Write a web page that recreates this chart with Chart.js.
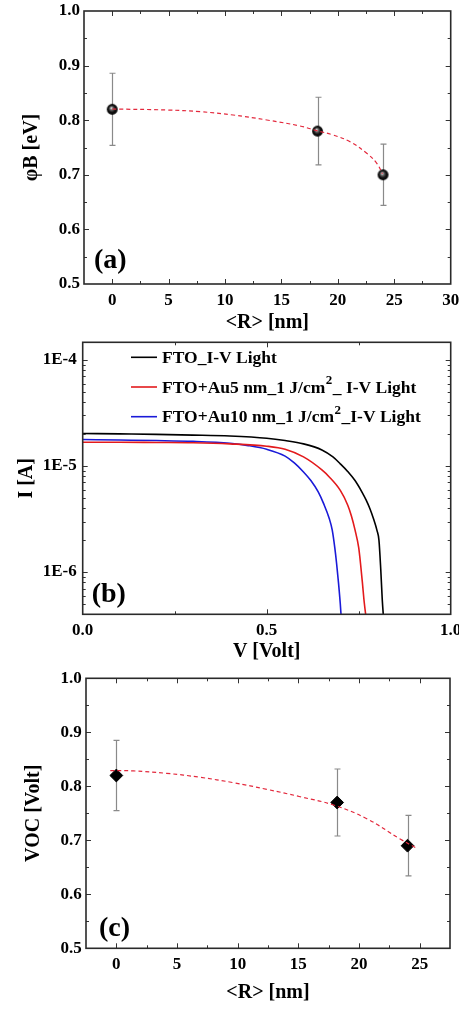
<!DOCTYPE html>
<html>
<head>
<meta charset="utf-8">
<script src="https://cdn.jsdelivr.net/npm/chart.js@4.4.1/dist/chart.umd.min.js"></script>
<style>
  html, body { margin: 0; padding: 0; background: #fff; }
  body { width: 459px; height: 1009px; position: relative; overflow: hidden; }
  .panel { position: absolute; left: 0; width: 459px; }
  canvas { display: block; }
</style>
</head>
<body>
<div class="panel" style="top:0;height:335px"><canvas id="chartA" width="459" height="335"></canvas></div>
<div class="panel" style="top:335px;height:328px"><canvas id="chartB" width="459" height="328"></canvas></div>
<div class="panel" style="top:663px;height:346px"><canvas id="chartC" width="459" height="346"></canvas></div>
<script>
// ---------- (a) Schottky barrier height vs. mean particle radius ----------
const radiusNm = [0, 18.2, 24.0];
const barrierEv = [0.82, 0.78, 0.70];
const barrierErr = [0.066, 0.062, 0.056];
const barrierFitR = [0, 4.85, 7.79, 10.72, 13.70, 16.65, 18.13, 19.57, 21.08, 22.56, 23.45, 23.95];
const barrierFitEv = [0.8205, 0.8187, 0.8156, 0.8095, 0.8004, 0.7894, 0.7808, 0.7729, 0.7606, 0.7394, 0.7211, 0.7020];
const xTicksA = [0, 5, 10, 15, 20, 25, 30];
const xLabelsA = ['0', '5', '10', '15', '20', '25', '30'];
const yTicksA = [0.5, 0.6, 0.7, 0.8, 0.9, 1.0];
const yLabelsA = ['0.5', '0.6', '0.7', '0.8', '0.9', '1.0'];

// ---------- (b) I-V curves under illumination ----------
const seriesNames = ['FTO_I-V Light', 'FTO+Au5 nm_1 J/cm²_ I-V Light', 'FTO+Au10 nm_1 J/cm²_I-V Light'];
const ftoV = [0, 0.1, 0.2, 0.3, 0.4, 0.5, 0.55, 0.6, 0.65, 0.68, 0.70, 0.72, 0.74, 0.76, 0.77, 0.78, 0.79, 0.80, 0.805, 0.81, 0.814, 0.818];
const ftoI = [2.03e-5, 2.01e-5, 1.99e-5, 1.96e-5, 1.92e-5, 1.83e-5, 1.74e-5, 1.62e-5, 1.42e-5, 1.22e-5, 1.05e-5, 8.9e-6, 7.3e-6, 5.6e-6, 4.8e-6, 4.0e-6, 3.2e-6, 2.45e-6, 2.0e-6, 1.05e-6, 5.5e-7, 3.5e-7];
const au5V = [0, 0.1, 0.2, 0.3, 0.4, 0.5, 0.55, 0.6, 0.65, 0.67, 0.70, 0.72, 0.73, 0.74, 0.75, 0.755, 0.76, 0.765, 0.771];
const au5I = [1.68e-5, 1.68e-5, 1.67e-5, 1.66e-5, 1.62e-5, 1.54e-5, 1.44e-5, 1.22e-5, 9.2e-6, 7.9e-6, 5.9e-6, 4.3e-6, 3.4e-6, 2.5e-6, 1.7e-6, 1.2e-6, 8.0e-7, 5.2e-7, 3.5e-7];
const au10V = [0, 0.1, 0.2, 0.3, 0.4, 0.45, 0.5, 0.55, 0.575, 0.6, 0.62, 0.64, 0.655, 0.67, 0.678, 0.685, 0.69, 0.695, 0.70, 0.703];
const au10I = [1.78e-5, 1.76e-5, 1.74e-5, 1.71e-5, 1.64e-5, 1.56e-5, 1.44e-5, 1.24e-5, 1.07e-5, 8.8e-6, 7.3e-6, 5.7e-6, 4.4e-6, 3.2e-6, 2.5e-6, 1.7e-6, 1.2e-6, 8.0e-7, 5.0e-7, 3.5e-7];
const xTicksB = [0, 0.5, 1.0];
const xLabelsB = ['0.0', '0.5', '1.0'];
const yTicksB = [1e-6, 1e-5, 1e-4];
const yLabelsB = ['1E-6', '1E-5', '1E-4'];

// ---------- (c) open-circuit voltage vs. mean particle radius ----------
const vocVolt = [0.82, 0.77, 0.69];
const vocErr = [0.065, 0.062, 0.056];
const vocFitR = [-0.5, 1.4, 4.15, 6.9, 9.65, 12.4, 15.15, 17.89, 20.64, 23.39, 24.7];
const vocFitV = [0.829, 0.8285, 0.824, 0.8167, 0.8067, 0.7944, 0.7807, 0.7654, 0.7400, 0.7024, 0.686];
const xTicksC = [0, 5, 10, 15, 20, 25];
const xLabelsC = ['0', '5', '10', '15', '20', '25'];
const yTicksC = yTicksA;
const yLabelsC = yLabelsA;

const SERIF = '"Liberation Serif", "Times New Roman", serif';
const tickFont = { family: SERIF, size: 17, weight: 'bold', lineHeight: 1 };
const titleFont = { family: SERIF, size: 20, weight: 'bold', lineHeight: 1 };

const pts = (xs, ys) => xs.map((v, i) => ({ x: v, y: ys[i] }));
const range = (a, b, s) => { const out = []; for (let v = a; v <= b + 1e-9; v += s) out.push(+v.toFixed(6)); return out; };
const logMinor = (lo, hi) => { const out = []; for (let e = lo; e <= hi; e++) for (let k = 2; k <= 9; k++) out.push(k * Math.pow(10, e)); return out; };

// Fixes a scale's thickness so the plot frame lands where it should.
function fixSize(size) {
  return function (scale) {
    if (scale.isHorizontal()) scale.height = size; else scale.width = size;
    scale.paddingLeft = scale.paddingRight = scale.paddingTop = scale.paddingBottom = 0;
  };
}
function setTicks(values) {
  return function (scale) { scale.ticks = values.map(v => ({ value: v })); };
}

// Shaded ball marker
function sphere(r) {
  const c = document.createElement('canvas');
  const s = Math.ceil(r * 2 + 2);
  c.width = c.height = s;
  const g = c.getContext('2d');
  const cx = s / 2, cy = s / 2;
  const grad = g.createRadialGradient(cx - 1.0, cy - 1.4, 0.2, cx, cy, r);
  grad.addColorStop(0, '#f2f2f2');
  grad.addColorStop(0.28, '#6a6a6a');
  grad.addColorStop(0.62, '#141414');
  grad.addColorStop(1, '#000');
  g.fillStyle = grad;
  g.beginPath(); g.arc(cx, cy, r, 0, Math.PI * 2); g.fill();
  return c;
}

// Frame with inward major/minor ticks on all four sides
const framePlugin = {
  id: 'frame',
  afterDatasetsDraw(chart, args, o) {
    const { ctx, chartArea: a, scales: { x, y } } = chart;
    ctx.save();
    ctx.strokeStyle = '#333';
    ctx.lineWidth = 1;
    const drawX = (vals, len) => vals.forEach(v => {
      const p = Math.round(x.getPixelForValue(v)) + 0.5;
      if (p < a.left + 1 || p > a.right - 1) return;
      ctx.beginPath();
      ctx.moveTo(p, a.bottom); ctx.lineTo(p, a.bottom - len);
      ctx.moveTo(p, a.top); ctx.lineTo(p, a.top + len);
      ctx.stroke();
    });
    const drawY = (vals, len) => vals.forEach(v => {
      const p = Math.round(y.getPixelForValue(v)) + 0.5;
      if (p < a.top + 1 || p > a.bottom - 1) return;
      ctx.beginPath();
      ctx.moveTo(a.left, p); ctx.lineTo(a.left + len, p);
      ctx.moveTo(a.right, p); ctx.lineTo(a.right - len, p);
      ctx.stroke();
    });
    drawX(o.xMajor || [], 5); drawX(o.xMinor || [], 3);
    drawY(o.yMajor || [], 5); drawY(o.yMinor || [], 3);
    ctx.lineWidth = 1.6;
    ctx.strokeStyle = '#2a2a2a';
    ctx.strokeRect(a.left, a.top, a.right - a.left, a.bottom - a.top);
    ctx.restore();
  }
};

// Vertical error bars with caps
const errorBarPlugin = {
  id: 'errorBars',
  beforeDatasetsDraw(chart) {
    const { ctx, scales: { y } } = chart;
    ctx.save();
    ctx.strokeStyle = '#8a8a8a';
    ctx.lineWidth = 1.2;
    chart.data.datasets.forEach((ds, i) => {
      if (!ds.errorBars) return;
      const meta = chart.getDatasetMeta(i);
      meta.data.forEach((el, j) => {
        const v = ds.data[j].y, e = ds.errorBars[j];
        const x = Math.round(el.x) + 0.5;
        const y1 = y.getPixelForValue(v + e), y2 = y.getPixelForValue(v - e);
        ctx.beginPath();
        ctx.moveTo(x, y1); ctx.lineTo(x, y2);
        ctx.moveTo(x - 3, y1); ctx.lineTo(x + 3, y1);
        ctx.moveTo(x - 3, y2); ctx.lineTo(x + 3, y2);
        ctx.stroke();
      });
    });
    ctx.restore();
  }
};

// Panel letter in the lower-left corner
const panelTagPlugin = {
  id: 'panelTag',
  afterDraw(chart, args, o) {
    if (!o.text) return;
    const { ctx, chartArea: a } = chart;
    ctx.save();
    ctx.font = 'bold 28px ' + SERIF;
    ctx.fillStyle = '#000';
    ctx.textBaseline = 'alphabetic';
    ctx.textAlign = 'left';
    ctx.fillText(o.text, a.left + o.dx, a.bottom - o.dy);
    ctx.restore();
  }
};

// In-plot legend; a "²" in a label is set as a raised 2
const innerLegendPlugin = {
  id: 'innerLegend',
  afterDraw(chart, args, o) {
    if (!o.display) return;
    const { ctx, chartArea: a } = chart;
    ctx.save();
    chart.data.datasets.forEach((ds, i) => {
      const yy = a.top + o.top + i * o.rowGap;
      const x0 = a.left + o.left;
      ctx.strokeStyle = ds.borderColor;
      ctx.lineWidth = 1.6;
      ctx.beginPath(); ctx.moveTo(x0, yy); ctx.lineTo(x0 + o.lineLen, yy); ctx.stroke();
      let tx = x0 + o.lineLen + o.gap;
      ctx.fillStyle = '#000';
      ctx.textBaseline = 'middle';
      ctx.textAlign = 'left';
      const parts = ds.label.split('²');
      parts.forEach((part, k) => {
        ctx.font = 'bold 17.5px ' + SERIF;
        ctx.fillText(part, tx, yy + 1);
        tx += ctx.measureText(part).width;
        if (k < parts.length - 1) {
          ctx.font = 'bold 13px ' + SERIF;
          ctx.fillText('2', tx + 0.5, yy - 6);
          tx += ctx.measureText('2').width + 1;
        }
      });
    });
    ctx.restore();
  }
};

Chart.register(framePlugin, errorBarPlugin, panelTagPlugin, innerLegendPlugin);
Chart.defaults.color = '#000';
Chart.defaults.animation = false;

function axisCommon(extra) {
  return Object.assign({
    grid: { display: false, drawTicks: false, tickLength: 0 },
    border: { display: false },
  }, extra);
}

function radiusChart(id, cfg) {
  return new Chart(document.getElementById(id), {
    type: 'scatter',
    data: {
      datasets: [
        {
          label: 'fit',
          data: pts(cfg.fitX, cfg.fitY),
          showLine: true,
          pointRadius: 0,
          borderColor: '#e3283c',
          borderWidth: 1.2,
          borderDash: [4, 3],
          tension: 0.4,
          fill: false
        },
        {
          label: 'data',
          data: pts(radiusNm, cfg.values),
          errorBars: cfg.errors,
          showLine: false,
          pointStyle: cfg.pointStyle,
          pointRadius: cfg.pointRadius,
          backgroundColor: '#000',
          borderColor: '#000',
          borderWidth: 1
        }
      ]
    },
    options: {
      responsive: false,
      devicePixelRatio: 1,
      layout: { autoPadding: false, padding: cfg.padding },
      plugins: {
        legend: { display: false },
        tooltip: { enabled: false },
        frame: cfg.frame,
        panelTag: cfg.tag,
        innerLegend: { display: false }
      },
      scales: {
        x: axisCommon({
          type: 'linear', min: cfg.xMin, max: cfg.xMax,
          afterBuildTicks: setTicks(cfg.xTicks),
          afterFit: fixSize(cfg.xSize),
          ticks: { font: tickFont, padding: cfg.xTickPad, maxRotation: 0, autoSkip: false,
                   callback: (v, i) => cfg.xLabels[i] },
          title: { display: true, text: '<R> [nm]', font: titleFont, padding: { top: 0, bottom: cfg.xTitlePad } }
        }),
        y: axisCommon({
          type: 'linear', min: 0.5, max: 1.0,
          afterBuildTicks: setTicks(cfg.yTicks),
          afterFit: fixSize(cfg.ySize),
          ticks: { font: tickFont, padding: cfg.yTickPad, autoSkip: false,
                   callback: (v, i) => cfg.yLabels[i] },
          title: { display: true, text: cfg.yTitle, font: titleFont, padding: { top: cfg.yTitlePad, bottom: 0 } }
        })
      }
    }
  });
}

// (a)
radiusChart('chartA', {
  fitX: barrierFitR, fitY: barrierFitEv, values: barrierEv, errors: barrierErr,
  pointStyle: sphere(5.4), pointRadius: 5.4,
  padding: { left: 0, top: 11, right: 8.3, bottom: 0 },
  xMin: -2.5, xMax: 30, xTicks: xTicksA, xLabels: xLabelsA,
  yTicks: yTicksA, yLabels: yLabelsA,
  xSize: 51, ySize: 84, xTickPad: 8.5, xTitlePad: 2, yTickPad: 4, yTitlePad: 21.5,
  yTitle: 'φB [eV]',
  frame: { xMajor: xTicksA, xMinor: range(-2.5, 27.5, 5), yMajor: yTicksA, yMinor: range(0.55, 0.95, 0.1) },
  tag: { text: '(a)', dx: 10, dy: 16 }
});

// (c)
radiusChart('chartC', {
  fitX: vocFitR, fitY: vocFitV, values: vocVolt, errors: vocErr,
  pointStyle: 'rectRot', pointRadius: 6.4,
  padding: { left: 0, top: 15.3, right: 9, bottom: 0 },
  xMin: -2.5, xMax: 27.5, xTicks: xTicksC, xLabels: xLabelsC,
  yTicks: yTicksC, yLabels: yLabelsC,
  xSize: 60.7, ySize: 86, xTickPad: 7.6, xTitlePad: 5.7, yTickPad: 4.3, yTitlePad: 24,
  yTitle: 'VOC [Volt]',
  frame: { xMajor: xTicksC, xMinor: range(-2.5, 27.5, 5), yMajor: yTicksC, yMinor: range(0.55, 0.95, 0.1) },
  tag: { text: '(c)', dx: 13, dy: 12 }
});

// (b)
new Chart(document.getElementById('chartB'), {
  type: 'line',
  data: {
    datasets: [
      { label: seriesNames[0], data: pts(ftoV, ftoI), borderColor: '#000000' },
      { label: seriesNames[1], data: pts(au5V, au5I), borderColor: '#e31a1c' },
      { label: seriesNames[2], data: pts(au10V, au10I), borderColor: '#1a1ad8' }
    ].map(d => Object.assign(d, { borderWidth: 1.6, pointRadius: 0, cubicInterpolationMode: 'monotone', fill: false }))
  },
  options: {
    responsive: false,
    devicePixelRatio: 1,
    layout: { autoPadding: false, padding: { left: 0, top: 7.3, right: 8.3, bottom: 0 } },
    plugins: {
      legend: { display: false },
      tooltip: { enabled: false },
      frame: { xMajor: xTicksB, xMinor: [0.25, 0.75], yMajor: yTicksB, yMinor: logMinor(-7, -4) },
      panelTag: { text: '(b)', dx: 9, dy: 12 },
      innerLegend: { display: true, left: 48.3, top: 15, rowGap: 29.7, lineLen: 26, gap: 5 }
    },
    scales: {
      x: axisCommon({
        type: 'linear', min: 0, max: 1.0,
        afterBuildTicks: setTicks(xTicksB),
        afterFit: fixSize(48.7),
        ticks: { font: tickFont, padding: 7.8, maxRotation: 0, autoSkip: false,
                 callback: (v, i) => xLabelsB[i] },
        title: { display: true, text: 'V [Volt]', font: titleFont, padding: { top: 0, bottom: 1.3 } }
      }),
      y: axisCommon({
        type: 'logarithmic', min: 4e-7, max: 1.47e-4,
        afterBuildTicks: setTicks(yTicksB),
        afterFit: fixSize(82.7),
        ticks: { font: tickFont, padding: 6, autoSkip: false,
                 callback: (v, i) => yLabelsB[i] },
        title: { display: true, text: 'I [A]', font: titleFont, padding: { top: 17, bottom: 0 } }
      })
    }
  }
});
</script>
</body>
</html>
